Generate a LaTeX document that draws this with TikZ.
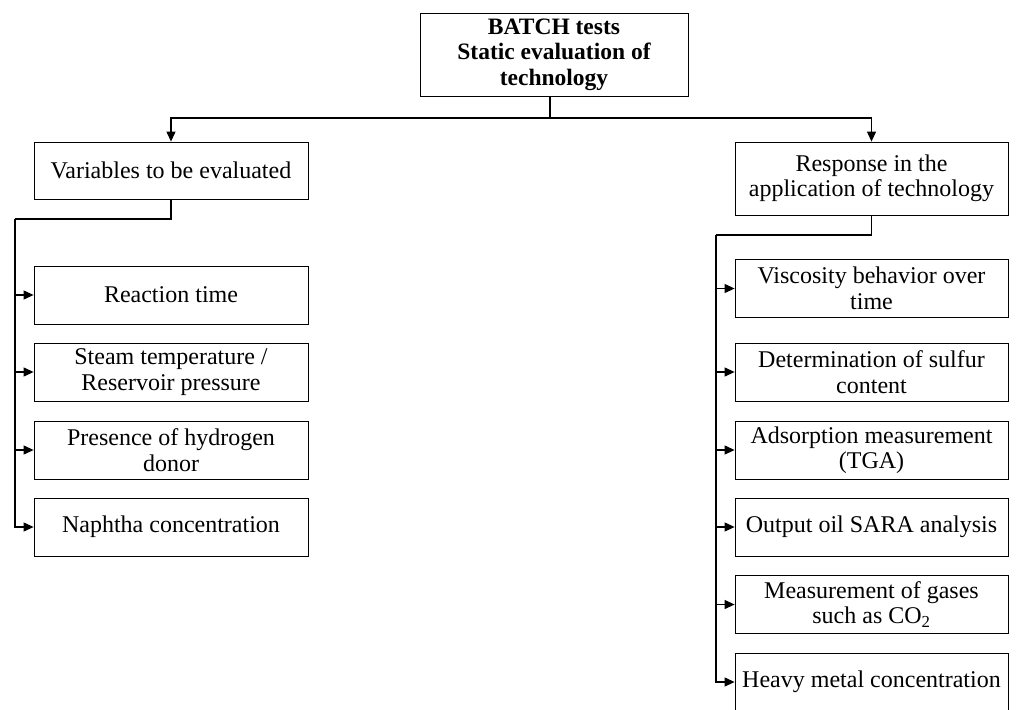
\documentclass[tikz,border=0pt]{standalone}
\usepackage{fontspec}
\setmainfont{Liberation Serif}
\usetikzlibrary{arrows.meta}
\tikzset{
  box/.style={draw, line width=0.8pt, align=center, inner sep=0pt,
    minimum width=274pt, minimum height=58pt,
    font=\fontsize{24}{25.5}\selectfont},
  link/.style={line width=1.1pt},
  arr/.style={link, -{Triangle[length=10pt,width=9pt]}}
}
\begin{document}
\begin{tikzpicture}[x=1pt,y=-1pt]
\useasboundingbox (0,0) rectangle (1019,709);

% root
\node[box, minimum width=268pt, minimum height=83pt, font=\bfseries\fontsize{23.5}{25.5}\selectfont]
  (root) at (554,54.5) {BATCH tests\\Static evaluation of\\technology};

% left branch
\node[box, minimum height=57pt] (vars) at (171,170.5) {Variables to be evaluated};
\node[box] (reac) at (171,295) {Reaction time};
\node[box] (steam) at (171,372) {Steam temperature /\\Reservoir pressure};
\node[box] (pres) at (171,450) {Presence of hydrogen\\donor};
\node[box] (naph) at (171,527) {Naphtha concentration};

% right branch
\node[box, minimum width=273pt, minimum height=73pt] (resp) at (871.5,178.5) {Response in the\\application of technology};
\node[box, minimum width=273pt] (visc) at (871.5,288.5) {Viscosity behavior over\\time};
\node[box, minimum width=273pt] (sulf) at (871.5,372) {Determination of sulfur\\content};
\node[box, minimum width=273pt] (adso) at (871.5,450) {Adsorption measurement\\(TGA)};
\node[box, minimum width=273pt] (sara) at (871.5,527) {Output oil SARA analysis};
\node[box, minimum width=273pt] (gas) at (871.5,604.5) {Measurement of gases\\such as CO\textsubscript{2}};
\node[box, minimum width=273pt] (metal) at (871.5,682) {Heavy metal concentration};

% root split
\coordinate (hub) at (550,118);
\draw[link] (root.south -| hub) -- (hub);
\draw[arr] (hub) -| (vars.north);
\draw[arr] (hub) -| (resp.north);

% left bus
\coordinate (lbus) at (15,219);
\draw[link] (vars.south) |- (lbus);
\draw[arr] (lbus) |- (naph.west);
\foreach \n in {reac,steam,pres}
  \draw[arr] (lbus |- \n.west) -- (\n.west);

% right bus
\coordinate (rbus) at (716,235);
\draw[link] (resp.south) |- (rbus);
\draw[arr] (rbus) |- (metal.west);
\foreach \n in {visc,sulf,adso,sara,gas}
  \draw[arr] (rbus |- \n.west) -- (\n.west);
\end{tikzpicture}
\end{document}
